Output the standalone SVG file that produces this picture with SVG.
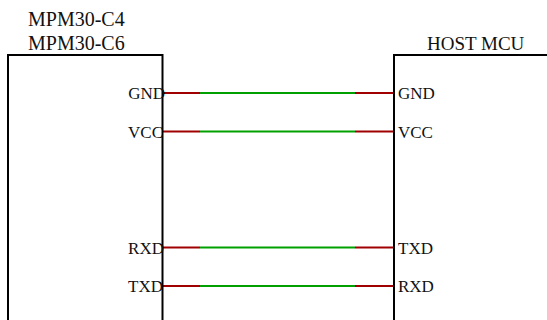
<svg xmlns="http://www.w3.org/2000/svg" width="547" height="320" viewBox="0 0 547 320">
<style>
text{font-family:"Liberation Serif","Times New Roman",serif;fill:#111}
.t{font-size:20px}
.h{font-size:19px}
.p{font-size:17px}
.e{text-anchor:end}
.b{fill:none;stroke:#000;stroke-width:2}
.r{fill:none;stroke:#a00000;stroke-width:2}
.g{fill:none;stroke:#00a000;stroke-width:2}
</style>
<rect width="547" height="320" fill="#fff"/>
<g id="connectors">
<path class="g" d="M200 93H355M200 131.500H355M200 247.500H355M200 286H355"/>
<path class="r" d="M163 93H200M355 93H393M163 131.500H200M355 131.500H393M163 247.500H200M355 247.500H393M163 286H200M355 286H393"/>
</g>
<g id="mpm30">
<path class="b" d="M8 320V55H162.500V320"/>
<text class="t" x="28" y="26">MPM30-C4</text>
<text class="t" x="28" y="50">MPM30-C6</text>
<text class="p e" x="165" y="99">GND</text>
<text class="p e" x="163" y="138">VCC</text>
<text class="p e" x="164" y="254">RXD</text>
<text class="p e" x="163" y="292">TXD</text>
</g>
<g id="host-mcu">
<path class="b" d="M547 55H394V320"/>
<text class="h" x="427" y="50">HOST MCU</text>
<text class="p" x="398" y="99">GND</text>
<text class="p" x="398" y="138">VCC</text>
<text class="p" x="398" y="254">TXD</text>
<text class="p" x="398" y="292">RXD</text>
</g>
</svg>
